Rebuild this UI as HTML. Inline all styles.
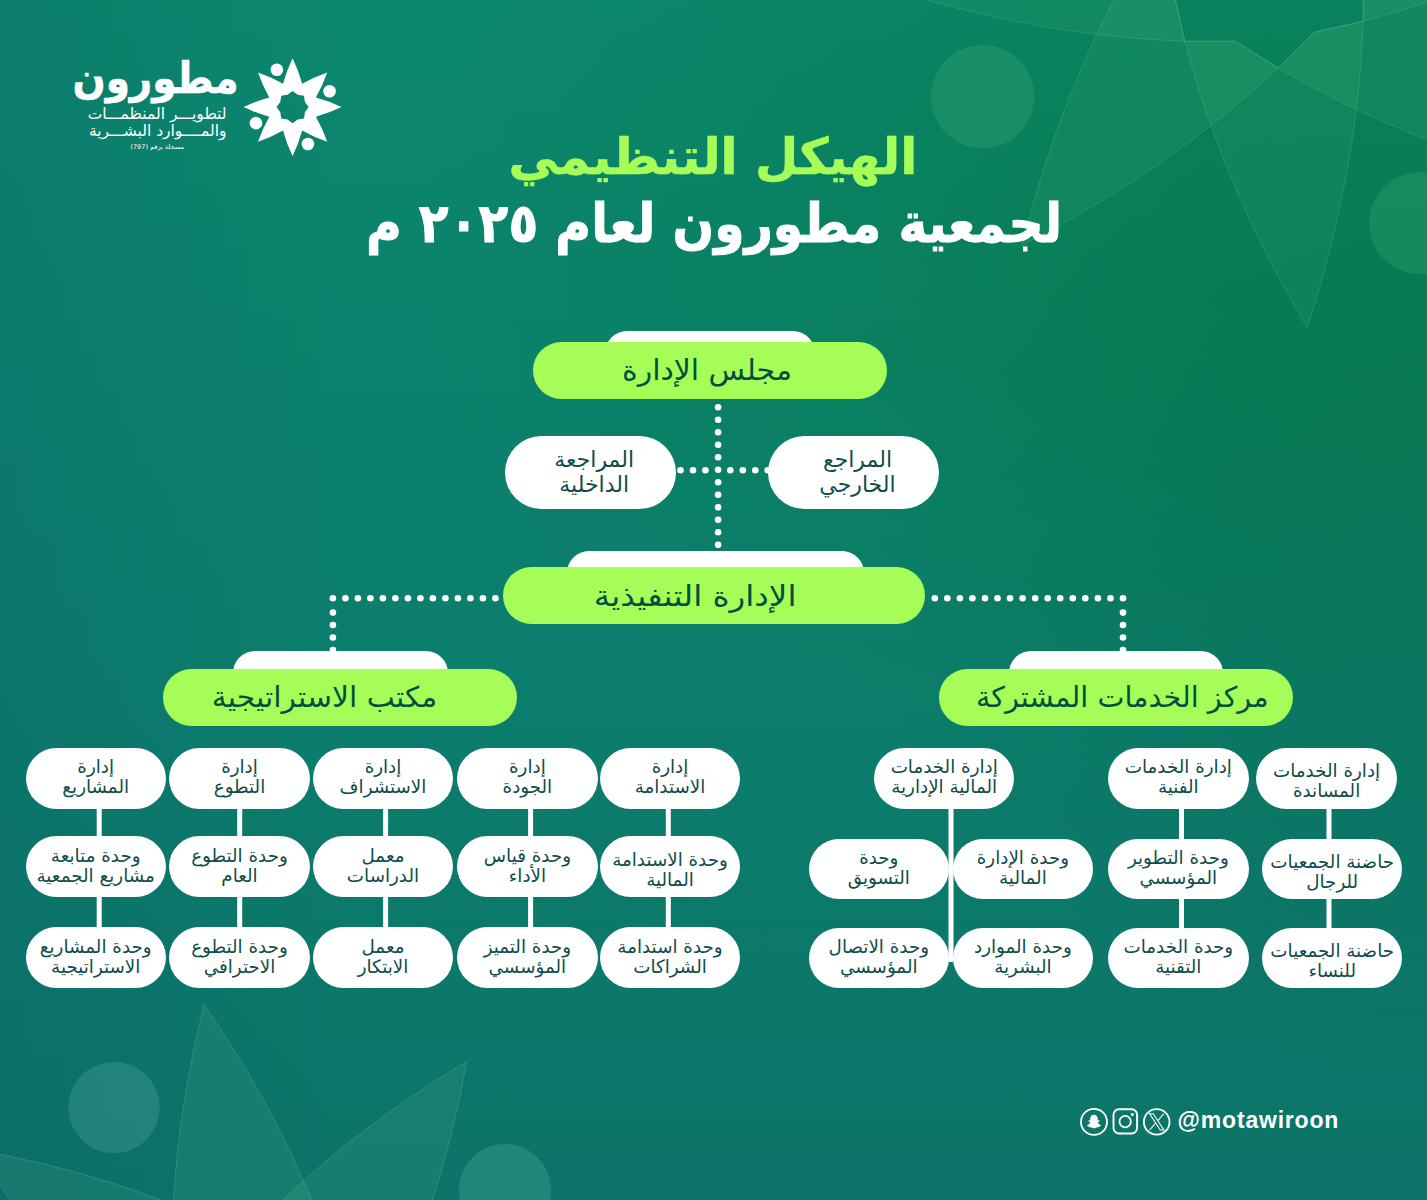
<!DOCTYPE html>
<html lang="ar" dir="ltr">
<head>
<meta charset="utf-8">
<title>الهيكل التنظيمي لجمعية مطورون</title>
<style>
html,body{margin:0;padding:0;background:#0b7e6c;}
body{width:1427px;height:1200px;overflow:hidden;}
#page{position:relative;width:1427px;height:1200px;overflow:hidden;
 font-family:"Liberation Sans","DejaVu Sans",sans-serif;
 background:
  radial-gradient(ellipse 900px 600px at 1320px 250px, rgba(5,120,60,.46) 0%, rgba(5,120,60,.38) 35%, rgba(5,120,60,.18) 65%, rgba(5,120,60,0) 100%),
  radial-gradient(ellipse 520px 560px at 1427px 540px, rgba(0,20,10,.085) 0%, rgba(0,20,10,.05) 50%, rgba(0,20,10,0) 100%),
  linear-gradient(90deg, rgba(10,50,90,.10) 0px, rgba(10,50,90,.05) 150px, rgba(10,50,90,0) 340px),
  linear-gradient(180deg,#0b876e 0%,#0b7e6d 54%,#0c7468 100%);
}
.abs{position:absolute;left:0;top:0}
.ar{font-family:"DejaVu Sans","Liberation Sans",sans-serif;direction:rtl;unicode-bidi:isolate;}
.p{position:absolute;box-sizing:border-box;border-radius:999px;display:flex;align-items:center;justify-content:center;text-align:center;
   font-family:"DejaVu Sans","Liberation Sans",sans-serif;direction:rtl;white-space:nowrap;}
.p.g{background:#a7fd58;color:#00503f;font-size:28.5px;line-height:57px;}

.p.r{background:#fff;color:#0f4d4b;font-size:22px;line-height:25px;}
.p.s{background:#fff;color:#0f4d4b;font-size:18.3px;line-height:20px;}
.p span{display:inline-block}
.tab{position:absolute;height:40px;background:#fff;border-radius:22px 22px 0 0;}
.t1,.t2{position:absolute;margin:0;white-space:nowrap;font-family:"DejaVu Sans","Liberation Sans",sans-serif;font-weight:bold;direction:rtl;text-align:center;}
.t1{color:#a7fd58;-webkit-text-stroke:0.6px #a7fd58;}
.t2{color:#fff;-webkit-text-stroke:0.9px #fff;}
.lg{position:absolute;margin:0;color:#fff;white-space:nowrap;font-family:"DejaVu Sans","Liberation Sans",sans-serif;direction:rtl;text-align:right}
.handle{position:absolute;left:1177.6px;top:1105.8px;color:#fff;font:bold 23px/28px "Liberation Sans",sans-serif;letter-spacing:.8px;white-space:nowrap}
</style>
</head>
<body>
<div id="page">
<svg class="abs" width="1427" height="1200" viewBox="0 0 1427 1200">
<path d="M1307.2,327.6 Q1222.9,187.0 1184.8,41.2 L1235.4,41.2 L1278.1,68.1 L1313.9,32.4 L1363.2,21.2 Q1358.3,171.8 1307.2,327.6Z" fill="rgba(150,255,170,.06)" stroke="rgba(170,255,190,.14)" stroke-width="1"/>
<path d="M1021.9,245.2 Q1061.7,86.2 1137.9,-43.9 L1173.6,-8.1 L1184.8,41.2 L1235.4,41.2 L1278.1,68.1 Q1168.2,171.2 1021.9,245.2Z" fill="rgba(150,255,170,.06)" stroke="rgba(170,255,190,.14)" stroke-width="1"/>
<path d="M878.4,-14.8 Q1019.0,-99.1 1164.8,-137.2 L1164.8,-86.6 L1137.9,-43.9 L1173.6,-8.1 L1184.8,41.2 Q1034.2,36.3 878.4,-14.8Z" fill="rgba(150,255,170,.06)" stroke="rgba(170,255,190,.14)" stroke-width="1"/>
<path d="M960.8,-300.1 Q1119.8,-260.3 1249.9,-184.1 L1214.1,-148.4 L1164.8,-137.2 L1164.8,-86.6 L1137.9,-43.9 Q1034.8,-153.8 960.8,-300.1Z" fill="rgba(150,255,170,.06)" stroke="rgba(170,255,190,.14)" stroke-width="1"/>
<path d="M1220.8,-443.6 Q1305.1,-303.0 1343.2,-157.2 L1292.6,-157.2 L1249.9,-184.1 L1214.1,-148.4 L1164.8,-137.2 Q1169.7,-287.8 1220.8,-443.6Z" fill="rgba(150,255,170,.06)" stroke="rgba(170,255,190,.14)" stroke-width="1"/>
<path d="M1506.1,-361.2 Q1466.3,-202.2 1390.1,-72.1 L1354.4,-107.9 L1343.2,-157.2 L1292.6,-157.2 L1249.9,-184.1 Q1359.8,-287.2 1506.1,-361.2Z" fill="rgba(150,255,170,.06)" stroke="rgba(170,255,190,.14)" stroke-width="1"/>
<path d="M1649.6,-101.2 Q1509.0,-16.9 1363.2,21.2 L1363.2,-29.4 L1390.1,-72.1 L1354.4,-107.9 L1343.2,-157.2 Q1493.8,-152.3 1649.6,-101.2Z" fill="rgba(150,255,170,.06)" stroke="rgba(170,255,190,.14)" stroke-width="1"/>
<path d="M1567.2,184.1 Q1408.2,144.3 1278.1,68.1 L1313.9,32.4 L1363.2,21.2 L1363.2,-29.4 L1390.1,-72.1 Q1493.2,37.8 1567.2,184.1Z" fill="rgba(150,255,170,.06)" stroke="rgba(170,255,190,.14)" stroke-width="1"/>
<circle cx="982.6" cy="96.7" r="51.7" fill="rgba(150,255,180,.105)"/>
<circle cx="1420.0" cy="223.0" r="51.0" fill="rgba(150,255,180,.105)"/>
<path d="M204.2,1004.7 Q289.0,1126.4 332.3,1255.6 L286.7,1258.7 L246.5,1237.1 L216.4,1271.5 L172.6,1284.7 Q167.7,1148.4 204.2,1004.7Z" fill="rgba(170,255,210,.07)" stroke="rgba(170,255,220,.16)" stroke-width="1"/>
<path d="M466.8,1061.4 Q440.7,1207.4 379.9,1329.5 L345.5,1299.4 L332.3,1255.6 L286.7,1258.7 L246.5,1237.1 Q339.3,1137.3 466.8,1061.4Z" fill="rgba(170,255,210,.07)" stroke="rgba(170,255,220,.16)" stroke-width="1"/>
<path d="M612.3,1287.2 Q490.6,1372.0 361.4,1415.3 L358.3,1369.7 L379.9,1329.5 L345.5,1299.4 L332.3,1255.6 Q468.6,1250.7 612.3,1287.2Z" fill="rgba(170,255,210,.07)" stroke="rgba(170,255,220,.16)" stroke-width="1"/>
<path d="M555.6,1549.8 Q409.6,1523.7 287.5,1462.9 L317.6,1428.5 L361.4,1415.3 L358.3,1369.7 L379.9,1329.5 Q479.7,1422.3 555.6,1549.8Z" fill="rgba(170,255,210,.07)" stroke="rgba(170,255,220,.16)" stroke-width="1"/>
<path d="M329.8,1695.3 Q245.0,1573.6 201.7,1444.4 L247.3,1441.3 L287.5,1462.9 L317.6,1428.5 L361.4,1415.3 Q366.3,1551.6 329.8,1695.3Z" fill="rgba(170,255,210,.07)" stroke="rgba(170,255,220,.16)" stroke-width="1"/>
<path d="M67.2,1638.6 Q93.3,1492.6 154.1,1370.5 L188.5,1400.6 L201.7,1444.4 L247.3,1441.3 L287.5,1462.9 Q194.7,1562.7 67.2,1638.6Z" fill="rgba(170,255,210,.07)" stroke="rgba(170,255,220,.16)" stroke-width="1"/>
<path d="M-78.3,1412.8 Q43.4,1328.0 172.6,1284.7 L175.7,1330.3 L154.1,1370.5 L188.5,1400.6 L201.7,1444.4 Q65.4,1449.3 -78.3,1412.8Z" fill="rgba(170,255,210,.07)" stroke="rgba(170,255,220,.16)" stroke-width="1"/>
<path d="M-21.6,1150.2 Q124.4,1176.3 246.5,1237.1 L216.4,1271.5 L172.6,1284.7 L175.7,1330.3 L154.1,1370.5 Q54.3,1277.7 -21.6,1150.2Z" fill="rgba(170,255,210,.07)" stroke="rgba(170,255,220,.16)" stroke-width="1"/>
<circle cx="114.0" cy="1107.5" r="45.6" fill="rgba(190,255,245,.125)"/>
<circle cx="505.0" cy="1190.0" r="46.0" fill="rgba(190,255,245,.125)"/>

</svg>
<svg class="abs" width="1427" height="1200" viewBox="0 0 1427 1200">
<g id="logostar"><path fill="#fff" fill-rule="evenodd" d="M292.6,58.2Q298.6,70.6 302.2,83.8Q314.2,77.0 327.2,72.5Q322.7,85.5 315.9,97.5Q329.1,101.1 341.5,107.1Q329.1,113.1 315.9,116.7Q322.7,128.7 327.2,141.7Q314.2,137.2 302.2,130.4Q298.6,143.6 292.6,156.0Q286.6,143.6 283.0,130.4Q271.0,137.2 258.0,141.7Q262.5,128.7 269.3,116.7Q256.1,113.1 243.7,107.1Q256.1,101.1 269.3,97.5Q262.5,85.5 258.0,72.5Q271.0,77.0 283.0,83.8Q286.6,70.6 292.6,58.2ZM292.6,91.0L297.7,94.8L304.0,95.7L304.9,102.0L308.7,107.1L304.9,112.2L304.0,118.5L297.7,119.4L292.6,123.2L287.5,119.4L281.2,118.5L280.3,112.2L276.5,107.1L280.3,102.0L281.2,95.7L287.5,94.8Z"/><circle cx="276.85" cy="69.76" r="6.3" fill="#fff"/><circle cx="329.57" cy="91.32" r="6.3" fill="#fff"/><circle cx="255.95" cy="123.15" r="6.3" fill="#fff"/><circle cx="307.90" cy="144.04" r="6.3" fill="#fff"/></g>
<g fill="#fff"><circle cx="718.1" cy="407.3" r="3.3"/><circle cx="718.1" cy="419.8" r="3.3"/><circle cx="718.1" cy="432.3" r="3.3"/><circle cx="718.1" cy="444.8" r="3.3"/><circle cx="718.1" cy="457.3" r="3.3"/><circle cx="718.1" cy="469.8" r="3.3"/><circle cx="718.1" cy="482.3" r="3.3"/><circle cx="718.1" cy="494.8" r="3.3"/><circle cx="718.1" cy="507.3" r="3.3"/><circle cx="718.1" cy="519.8" r="3.3"/><circle cx="718.1" cy="532.3" r="3.3"/><circle cx="718.1" cy="544.8" r="3.3"/><circle cx="680.5" cy="470.3" r="3.3"/><circle cx="693.0" cy="470.3" r="3.3"/><circle cx="705.4" cy="470.3" r="3.3"/><circle cx="730.3" cy="470.3" r="3.3"/><circle cx="742.8" cy="470.3" r="3.3"/><circle cx="755.3" cy="470.3" r="3.3"/><circle cx="767.7" cy="470.3" r="3.3"/><circle cx="332.9" cy="598.3" r="3.3"/><circle cx="345.4" cy="598.3" r="3.3"/><circle cx="357.9" cy="598.3" r="3.3"/><circle cx="370.4" cy="598.3" r="3.3"/><circle cx="382.9" cy="598.3" r="3.3"/><circle cx="395.4" cy="598.3" r="3.3"/><circle cx="407.9" cy="598.3" r="3.3"/><circle cx="420.4" cy="598.3" r="3.3"/><circle cx="432.9" cy="598.3" r="3.3"/><circle cx="445.4" cy="598.3" r="3.3"/><circle cx="457.9" cy="598.3" r="3.3"/><circle cx="470.4" cy="598.3" r="3.3"/><circle cx="482.9" cy="598.3" r="3.3"/><circle cx="495.4" cy="598.3" r="3.3"/><circle cx="332.9" cy="612.6" r="3.3"/><circle cx="332.9" cy="625.0" r="3.3"/><circle cx="332.9" cy="637.5" r="3.3"/><circle cx="332.9" cy="650.0" r="3.3"/><circle cx="1123.0" cy="598.3" r="3.3"/><circle cx="1110.5" cy="598.3" r="3.3"/><circle cx="1097.9" cy="598.3" r="3.3"/><circle cx="1085.3" cy="598.3" r="3.3"/><circle cx="1072.8" cy="598.3" r="3.3"/><circle cx="1060.2" cy="598.3" r="3.3"/><circle cx="1047.7" cy="598.3" r="3.3"/><circle cx="1035.2" cy="598.3" r="3.3"/><circle cx="1022.6" cy="598.3" r="3.3"/><circle cx="1010.0" cy="598.3" r="3.3"/><circle cx="997.5" cy="598.3" r="3.3"/><circle cx="985.0" cy="598.3" r="3.3"/><circle cx="972.4" cy="598.3" r="3.3"/><circle cx="959.9" cy="598.3" r="3.3"/><circle cx="947.3" cy="598.3" r="3.3"/><circle cx="934.8" cy="598.3" r="3.3"/><circle cx="1123.0" cy="612.6" r="3.3"/><circle cx="1123.0" cy="625.0" r="3.3"/><circle cx="1123.0" cy="637.5" r="3.3"/><circle cx="1123.0" cy="650.0" r="3.3"/></g>
<g fill="#fff"><rect x="96.7" y="800.0" width="5.0" height="135.0"/><rect x="237.2" y="800.0" width="5.0" height="135.0"/><rect x="383.1" y="800.0" width="5.0" height="135.0"/><rect x="528.1" y="800.0" width="5.0" height="135.0"/><rect x="665.8" y="800.0" width="5.0" height="135.0"/><rect x="1179.0" y="800.0" width="5.0" height="135.0"/><rect x="1326.5" y="800.0" width="5.0" height="135.0"/><rect x="948.5" y="800.0" width="5.0" height="162.0"/></g>
</svg>

<div class="lg" id="lg1" style="right:1188.5px;top:50px;font-size:43px;line-height:56px;font-weight:bold;transform:scaleX(.905);transform-origin:100% 50%;-webkit-text-stroke:.6px #fff">مطورون</div>
<div class="lg" id="lg2" style="right:1200.5px;top:105px;font-size:15.5px;line-height:19px;">لتطويـــر المنظمـــات</div>
<div class="lg" id="lg3" style="right:1200.5px;top:122px;font-size:15.5px;line-height:19px;">والمــــوارد البشـــرية</div>
<div class="lg" id="lg4" style="right:1243px;top:142px;font-size:6.5px;line-height:10px;">مسجلة برقم (797)</div>

<h1 class="t1" id="t1" style="left:413px;width:600px;top:123.5px;font-size:50px;line-height:66px;transform:scaleX(.996)">الهيكل التنظيمي</h1>
<h2 class="t2" id="t2" style="left:314px;width:800px;top:189px;font-size:54px;line-height:70px;transform:scaleX(.9056)">لجمعية مطورون لعام ٢٠٢٥ م</h2>

<div class="tab" style="left:605.4px;top:330.8px;width:209.6px"></div>
<div class="p g" style="left:533.0px;top:342.0px;width:354.0px;height:57.2px;"><span style="transform:translate(-3.0px,0.0px) scaleX(1.049)">مجلس الإدارة</span></div>
<div class="tab" style="left:566.8px;top:551.0px;width:297.7px"></div>
<div class="p g" style="left:503.0px;top:566.5px;width:422.0px;height:57.0px;"><span style="transform:translate(-18.7px,1.2px) scaleX(1.142)">الإدارة التنفيذية</span></div>
<div class="tab" style="left:232.5px;top:651.3px;width:215.0px"></div>
<div class="p g" style="left:163.0px;top:668.6px;width:354.0px;height:57.2px;"><span style="transform:translate(-15.3px,0.0px) scaleX(1.045)">مكتب الاستراتيجية</span></div>
<div class="tab" style="left:1008.7px;top:651.3px;width:214.4px"></div>
<div class="p g" style="left:939.0px;top:668.6px;width:353.6px;height:57.2px;"><span style="transform:translate(6.8px,0.0px) scaleX(1.006)">مركز الخدمات المشتركة</span></div>
<div class="p r" style="left:504.5px;top:436.0px;width:171.8px;height:72.5px;"><span style="transform:translate(3.8px,0.0px) scaleX(1.000)">المراجعة<br>الداخلية</span></div>
<div class="p r" style="left:768.0px;top:436.0px;width:171.0px;height:72.5px;"><span style="transform:translate(4.0px,0.0px) scaleX(1.000)">المراجع<br>الخارجي</span></div>
<div class="p s" style="left:25.5px;top:748.0px;width:140.4px;height:60.8px;"><span style="transform:translate(0.0px,-1.3px) scaleX(1.000)">إدارة<br>المشاريع</span></div>
<div class="p s" style="left:25.5px;top:836.3px;width:140.4px;height:60.5px;"><span style="transform:translate(0.0px,-1.3px) scaleX(1.000)">وحدة متابعة<br>مشاريع الجمعية</span></div>
<div class="p s" style="left:25.5px;top:927.4px;width:140.4px;height:60.6px;"><span style="transform:translate(0.0px,-1.3px) scaleX(1.000)">وحدة المشاريع<br>الاستراتيجية</span></div>
<div class="p s" style="left:169.3px;top:748.0px;width:140.4px;height:60.8px;"><span style="transform:translate(0.0px,-1.3px) scaleX(1.000)">إدارة<br>التطوع</span></div>
<div class="p s" style="left:169.3px;top:836.3px;width:140.4px;height:60.5px;"><span style="transform:translate(0.0px,-1.3px) scaleX(1.000)">وحدة التطوع<br>العام</span></div>
<div class="p s" style="left:169.3px;top:927.4px;width:140.4px;height:60.6px;"><span style="transform:translate(0.0px,-1.3px) scaleX(1.000)">وحدة التطوع<br>الاحترافي</span></div>
<div class="p s" style="left:312.8px;top:748.0px;width:140.4px;height:60.8px;"><span style="transform:translate(0.0px,-1.3px) scaleX(1.000)">إدارة<br>الاستشراف</span></div>
<div class="p s" style="left:312.8px;top:836.3px;width:140.4px;height:60.5px;"><span style="transform:translate(0.0px,-1.3px) scaleX(1.000)">معمل<br>الدراسات</span></div>
<div class="p s" style="left:312.8px;top:927.4px;width:140.4px;height:60.6px;"><span style="transform:translate(0.0px,-1.3px) scaleX(1.000)">معمل<br>الابتكار</span></div>
<div class="p s" style="left:457.2px;top:748.0px;width:140.4px;height:60.8px;"><span style="transform:translate(0.0px,-1.3px) scaleX(1.000)">إدارة<br>الجودة</span></div>
<div class="p s" style="left:457.2px;top:836.3px;width:140.4px;height:60.5px;"><span style="transform:translate(0.0px,-1.3px) scaleX(1.000)">وحدة قياس<br>الأداء</span></div>
<div class="p s" style="left:457.2px;top:927.4px;width:140.4px;height:60.6px;"><span style="transform:translate(0.0px,-1.3px) scaleX(1.000)">وحدة التميز<br>المؤسسي</span></div>
<div class="p s" style="left:599.8px;top:748.0px;width:140.4px;height:60.8px;"><span style="transform:translate(0.0px,-1.3px) scaleX(1.000)">إدارة<br>الاستدامة</span></div>
<div class="p s" style="left:599.8px;top:836.3px;width:140.4px;height:60.5px;padding-top:9px"><span style="transform:translate(0.0px,-1.3px) scaleX(1.000)">وحدة الاستدامة<br>المالية</span></div>
<div class="p s" style="left:599.8px;top:927.4px;width:140.4px;height:60.6px;"><span style="transform:translate(0.0px,-1.3px) scaleX(1.000)">وحدة استدامة<br>الشراكات</span></div>
<div class="p s" style="left:874.1px;top:748.0px;width:140.2px;height:60.6px;"><span style="transform:translate(0.0px,-1.3px) scaleX(1.000)">إدارة الخدمات<br>المالية الإدارية</span></div>
<div class="p s" style="left:809.0px;top:838.8px;width:139.6px;height:60.0px;"><span style="transform:translate(0.0px,-1.3px) scaleX(1.000)">وحدة<br>التسويق</span></div>
<div class="p s" style="left:953.0px;top:838.8px;width:139.8px;height:60.0px;"><span style="transform:translate(0.0px,-1.3px) scaleX(1.000)">وحدة الإدارة<br>المالية</span></div>
<div class="p s" style="left:809.0px;top:927.9px;width:139.6px;height:60.2px;"><span style="transform:translate(0.0px,-1.3px) scaleX(1.000)">وحدة الاتصال<br>المؤسسي</span></div>
<div class="p s" style="left:953.0px;top:927.9px;width:139.8px;height:60.2px;"><span style="transform:translate(0.0px,-1.3px) scaleX(1.000)">وحدة الموارد<br>البشرية</span></div>
<div class="p s" style="left:1107.9px;top:748.0px;width:140.9px;height:60.6px;"><span style="transform:translate(0.0px,-1.3px) scaleX(1.000)">إدارة الخدمات<br>الفنية</span></div>
<div class="p s" style="left:1107.9px;top:838.8px;width:140.9px;height:60.0px;"><span style="transform:translate(0.0px,-1.3px) scaleX(1.000)">وحدة التطوير<br>المؤسسي</span></div>
<div class="p s" style="left:1107.9px;top:927.9px;width:140.9px;height:60.2px;"><span style="transform:translate(0.0px,-1.3px) scaleX(1.000)">وحدة الخدمات<br>التقنية</span></div>
<div class="p s" style="left:1256.4px;top:748.0px;width:140.4px;height:60.6px;padding-top:8px"><span style="transform:translate(0.0px,-1.3px) scaleX(1.000)">إدارة الخدمات<br>المساندة</span></div>
<div class="p s" style="left:1262.2px;top:838.8px;width:140.0px;height:60.0px;padding-top:8px"><span style="transform:translate(0.0px,-1.3px) scaleX(1.000)">حاضنة الجمعيات<br>للرجال</span></div>
<div class="p s" style="left:1262.2px;top:927.9px;width:140.0px;height:60.2px;padding-top:8px"><span style="transform:translate(0.0px,-1.3px) scaleX(1.000)">حاضنة الجمعيات<br>للنساء</span></div>


<svg class="abs" style="left:1078px;top:1105px" width="96" height="34" viewBox="1078 1105 96 34" fill="none" stroke="#fff">
 <circle cx="1094" cy="1121.9" r="13" stroke-width="1.8"/>
 <path fill="#fff" stroke="none" transform="translate(1094 1122.2) scale(.84) translate(-1094 -1122.2)" d="M1094 1113.2c2.900 0 4.500 2.100 4.500 4.600 0 .9-.05 1.700-.1 2.300.5.250 1.050-.150 1.500-.15.550 0 .9.350.9.700 0 .700-1.300.900-1.900 1.300-.300.200-.250.500-.1.800.700 1.500 1.900 2.500 3.200 2.900.350.1.500.300.400.600-.200.550-1.300.800-2.100.950-.200.300-.150.900-.550 1-.500.150-1.200-.150-2.100.05-1 .250-1.700 1.300-3.650 1.300s-2.650-1.050-3.650-1.300c-.9-.200-1.600.1-2.100-.05-.400-.1-.350-.700-.550-1-.800-.150-1.900-.400-2.100-.950-.1-.300.05-.500.400-.600 1.300-.400 2.500-1.400 3.200-2.900.150-.300.200-.600-.1-.800-.600-.400-1.900-.600-1.900-1.300 0-.350.350-.700.9-.700.450 0 1 .400 1.500.15-.05-.600-.1-1.400-.1-2.300 0-2.500 1.600-4.600 4.500-4.600z"/>
 <rect x="1113.5" y="1109.3" width="23.6" height="24.2" rx="5.5" stroke-width="1.9"/>
 <circle cx="1125.2" cy="1121.6" r="5.7" stroke-width="1.8"/>
 <circle cx="1132.3" cy="1114.6" r="1.5" fill="#fff" stroke="none"/>
 <circle cx="1156.7" cy="1121.9" r="12.8" stroke-width="1.8"/>
 <path stroke-width="1.1" d="M1149.6 1113.8h3.6l10.700 16.200h-3.600zM1163.600 1113.800l-5.900 7M1155.600 1123.200l-5.900 6.800"/>
</svg>
<div class="handle" id="handle">@motawiroon</div>
</div>
</body>
</html>
